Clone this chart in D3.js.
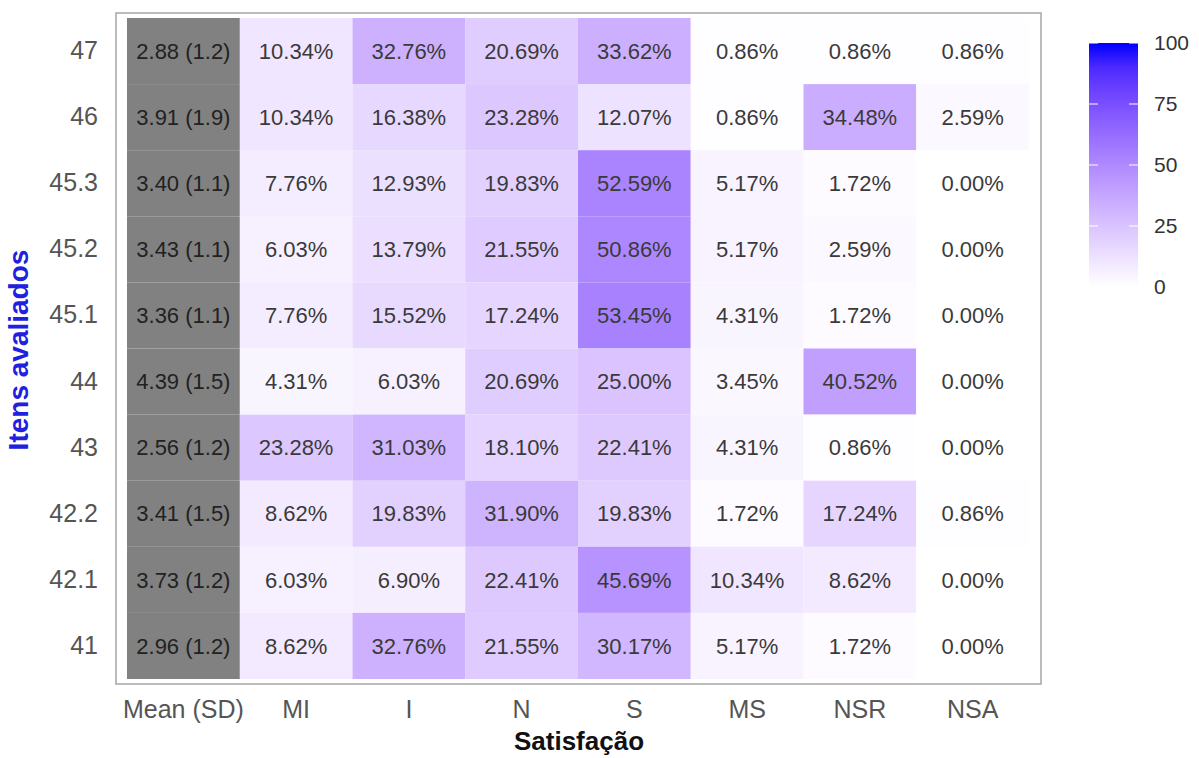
<!DOCTYPE html>
<html>
<head>
<meta charset="utf-8">
<script src="https://cdn.jsdelivr.net/npm/d3@7"></script>
<style>
  body { margin: 0; background: #fff; }
  text { font-family: "Liberation Sans", Arial, sans-serif; }
</style>
</head>
<body>
<div id="container"></div>
<script>
const items = ["47", "46", "45.3", "45.2", "45.1", "44", "43", "42.2", "42.1", "41"];
const levels = ["MI", "I", "N", "S", "MS", "NSR", "NSA"];
const meanSd = ["2.88 (1.2)", "3.91 (1.9)", "3.40 (1.1)", "3.43 (1.1)", "3.36 (1.1)",
                "4.39 (1.5)", "2.56 (1.2)", "3.41 (1.5)", "3.73 (1.2)", "2.96 (1.2)"];
const pct = [
  [10.34, 32.76, 20.69, 33.62, 0.86, 0.86, 0.86],
  [10.34, 16.38, 23.28, 12.07, 0.86, 34.48, 2.59],
  [7.76, 12.93, 19.83, 52.59, 5.17, 1.72, 0.00],
  [6.03, 13.79, 21.55, 50.86, 5.17, 2.59, 0.00],
  [7.76, 15.52, 17.24, 53.45, 4.31, 1.72, 0.00],
  [4.31, 6.03, 20.69, 25.00, 3.45, 40.52, 0.00],
  [23.28, 31.03, 18.10, 22.41, 4.31, 0.86, 0.00],
  [8.62, 19.83, 31.90, 19.83, 1.72, 17.24, 0.86],
  [6.03, 6.90, 22.41, 45.69, 10.34, 8.62, 0.00],
  [8.62, 32.76, 21.55, 30.17, 5.17, 1.72, 0.00]
];
const legendTicks = [0, 25, 50, 75, 100];

const width = 1199, height = 758;
const columns = ["Mean (SD)"].concat(levels);

const svg = d3.select("#container").append("svg")
    .attr("width", width)
    .attr("height", height);

const x = d3.scaleBand().domain(columns).range([127, 1029]);
const y = d3.scaleBand().domain(items).range([18, 679]);
const color = d3.scaleLinear().domain([0, 100]).range(["white", "blue"])
    .interpolate(d3.interpolateLab);

const cells = [];
items.forEach((it, i) => {
  levels.forEach((lv, j) => cells.push({ item: it, level: lv, value: pct[i][j] }));
});

// percentage tiles
svg.append("g").selectAll("rect")
  .data(cells)
  .join("rect")
    .attr("x", d => x(d.level))
    .attr("y", d => y(d.item))
    .attr("width", x.bandwidth())
    .attr("height", y.bandwidth())
    .attr("fill", d => color(d.value));

svg.append("g").selectAll("text")
  .data(cells)
  .join("text")
    .attr("x", d => x(d.level) + x.bandwidth() / 2)
    .attr("y", d => y(d.item) + y.bandwidth() / 2)
    .attr("dy", "0.35em")
    .attr("text-anchor", "middle")
    .attr("font-size", 22)
    .attr("fill", "#3a3a3a")
    .text(d => d.value.toFixed(2) + "%");

// mean (sd) column
svg.append("g").selectAll("rect")
  .data(items)
  .join("rect")
    .attr("x", x("Mean (SD)"))
    .attr("y", d => y(d))
    .attr("width", x.bandwidth())
    .attr("height", y.bandwidth())
    .attr("fill", "#818181");

svg.append("g").selectAll("text")
  .data(items)
  .join("text")
    .attr("x", x("Mean (SD)") + x.bandwidth() / 2)
    .attr("y", d => y(d) + y.bandwidth() / 2)
    .attr("dy", "0.35em")
    .attr("text-anchor", "middle")
    .attr("font-size", 22)
    .attr("fill", "#222")
    .text((d, i) => meanSd[i]);

// panel border
svg.append("rect")
    .attr("x", 116).attr("y", 13)
    .attr("width", 1041 - 116).attr("height", 684 - 13)
    .attr("fill", "none")
    .attr("stroke", "#a6a6a6")
    .attr("stroke-width", 1.5);

// axes
const xAxis = svg.append("g")
    .attr("transform", "translate(0,684)")
    .call(d3.axisBottom(x).tickSize(0).tickPadding(16));
xAxis.select(".domain").remove();
xAxis.selectAll("text")
    .attr("font-size", 25)
    .attr("fill", "#555")
    .attr("font-family", "Liberation Sans, Arial, sans-serif");

const yAxis = svg.append("g")
    .attr("transform", "translate(116,0)")
    .call(d3.axisLeft(y).tickSize(0).tickPadding(18));
yAxis.select(".domain").remove();
yAxis.selectAll("text")
    .attr("font-size", 25)
    .attr("fill", "#555")
    .attr("font-family", "Liberation Sans, Arial, sans-serif");

svg.append("text")
    .attr("x", 579).attr("y", 750)
    .attr("text-anchor", "middle")
    .attr("font-size", 26)
    .attr("font-weight", "bold")
    .attr("fill", "#111")
    .text("Satisfação");

svg.append("text")
    .attr("transform", "translate(28,350) rotate(-90)")
    .attr("text-anchor", "middle")
    .attr("font-size", 28)
    .attr("font-weight", "bold")
    .attr("fill", "#2020e0")
    .text("Itens avaliados");

// colour legend
const ly = d3.scaleLinear().domain([0, 100]).range([287, 43]);
const grad = svg.append("defs").append("linearGradient")
    .attr("id", "legend-gradient")
    .attr("x1", 0).attr("y1", 1).attr("x2", 0).attr("y2", 0);
grad.selectAll("stop")
  .data(d3.range(0, 101, 10))
  .join("stop")
    .attr("offset", d => d + "%")
    .attr("stop-color", d => color(d));

const lx = 1089, lw = 49;
svg.append("rect")
    .attr("x", lx).attr("y", ly(100))
    .attr("width", lw).attr("height", ly(0) - ly(100))
    .attr("fill", "url(#legend-gradient)");

const lg = svg.append("g");
legendTicks.forEach(t => {
  lg.append("line").attr("x1", lx).attr("x2", lx + 9)
    .attr("y1", ly(t)).attr("y2", ly(t)).attr("stroke", "white").attr("stroke-width", 1);
  lg.append("line").attr("x1", lx + lw - 9).attr("x2", lx + lw)
    .attr("y1", ly(t)).attr("y2", ly(t)).attr("stroke", "white").attr("stroke-width", 1);
  lg.append("text")
    .attr("x", lx + lw + 16).attr("y", ly(t))
    .attr("dy", "0.35em")
    .attr("font-size", 21)
    .attr("fill", "#333")
    .text(t);
});
</script>
</body>
</html>
